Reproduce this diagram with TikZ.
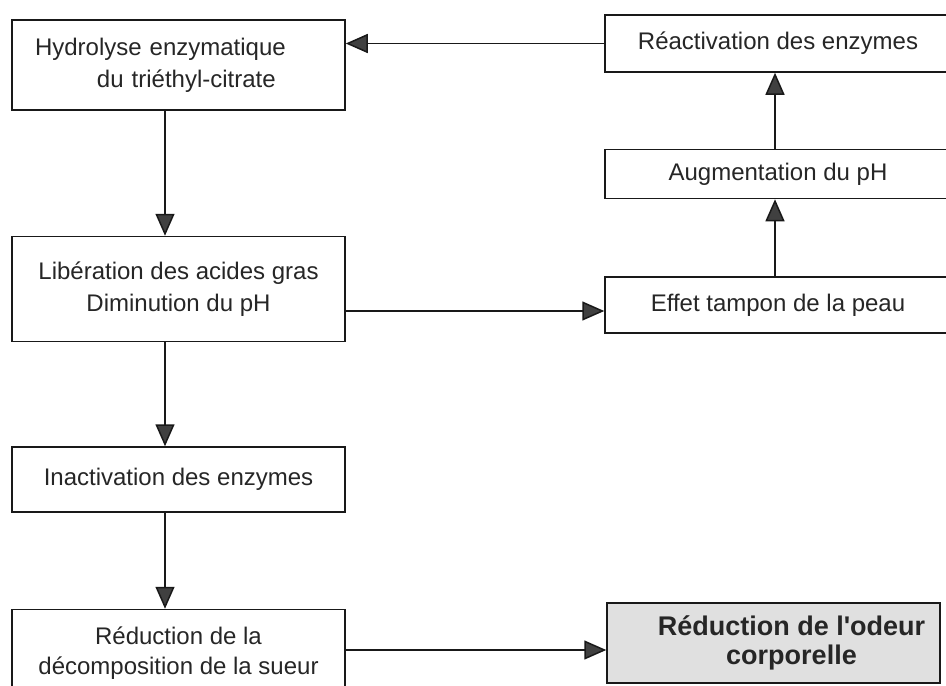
\documentclass[tikz,border=0pt]{standalone}
\usepackage{fontspec}
\setmainfont{Liberation Sans}
\usetikzlibrary{arrows.meta, positioning}

\begin{document}
\begin{tikzpicture}[
    x=1pt, y=-1pt,
    box/.style={rectangle, draw=black!90, line width=1.5pt, fill=white, align=center, inner sep=0pt,
                minimum width=333pt, text=black!85, font=\fontsize{24}{32}\selectfont},
    rightbox/.style={box, minimum width=346pt},
    resultbox/.style={box, fill=black!12, font=\fontsize{27}{29}\selectfont\bfseries},
    arrow/.style={-{Triangle[length=22pt, width=19pt, fill=black!75]}, line width=1.5pt, draw=black!90}
]
\useasboundingbox (0,0) rectangle (946,686);

% Left column
\node[box, minimum height=90pt, align=left, text width=287pt, inner xsep=23pt] (hyd) at (178.5,65)
    {Hydrolyse enzymatique\\\hspace*{62pt}du triéthyl-citrate};
\node[box, minimum height=105pt] (lib) [below=125pt of hyd] {Libération des acides gras\\Diminution du pH};
\node[box, minimum height=65pt] (inact) [below=104pt of lib] {Inactivation des enzymes};
\node[box, minimum height=87pt, font=\fontsize{24}{30}\selectfont] (red) [below=96pt of inact]
    {Réduction de la\\décomposition de la sueur};

% Right column
\node[rightbox, minimum height=57pt] (react) at (778,43.5) {Réactivation des enzymes};
\node[rightbox, minimum height=49pt] (aug) [below=76pt of react] {Augmentation du pH};
\node[rightbox, minimum height=56pt] (effet) [below=77pt of aug] {Effet tampon de la peau};
\node[resultbox, minimum height=80pt] (odeur) at (773.5,643)
    {\hspace*{36pt}Réduction de l\textquotesingle odeur\\\hspace*{36pt}corporelle};

% Arrows
\coordinate (effin) at ([yshift=-6pt]effet.west);
\coordinate (odin) at ([yshift=-7pt]odeur.west);
\draw[arrow] (react.west) -- (react.west -| hyd.east);
\draw[arrow] ([xshift=-13.5pt]hyd.south) -- ([xshift=-13.5pt]lib.north);
\draw[arrow] ([xshift=-13.5pt]lib.south) -- ([xshift=-13.5pt]inact.north);
\draw[arrow] ([xshift=-13.5pt]inact.south) -- ([xshift=-13.5pt]red.north);
\draw[arrow] (effin -| lib.east) -- (effin);
\draw[arrow] ([xshift=-3pt]effet.north) -- ([xshift=-3pt]aug.south);
\draw[arrow] ([xshift=-3pt]aug.north) -- ([xshift=-3pt]react.south);
\draw[arrow] (odin -| red.east) -- (odin);

\end{tikzpicture}
\end{document}
